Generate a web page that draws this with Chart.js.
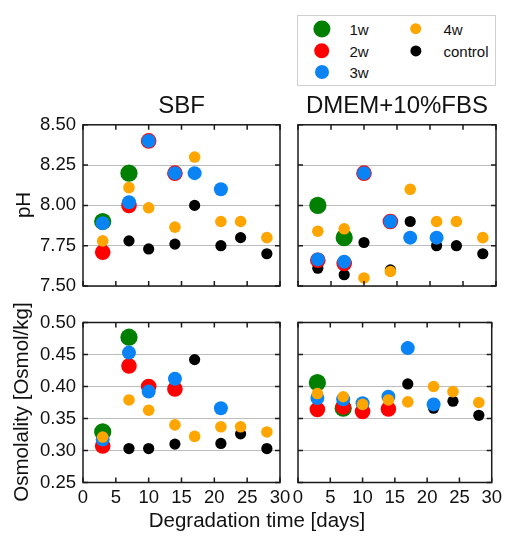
<!DOCTYPE html>
<html>
<head>
<meta charset="utf-8">
<script src="https://cdn.jsdelivr.net/npm/chart.js@4.4.1/dist/chart.umd.min.js"></script>
<style>
  html, body { margin: 0; padding: 0; background: #fff; }
  body { width: 506px; height: 536px; position: relative; overflow: hidden; font-family: "Liberation Sans", Arial, sans-serif; color: #111; }
  canvas { position: absolute; }
  .label { position: absolute; white-space: nowrap; line-height: 1; font-size: 20.5px; transform: translate(-50%, -50%); }
  .vlabel { transform: translate(-50%, -50%) rotate(-90deg); }
  #legend { position: absolute; left: 297px; top: 15px; width: 197px; height: 69px; border: 1px solid #cfcfcf; }
  #legend .dot { position: absolute; border-radius: 50%; transform: translate(-50%, -50%); }
  #legend .txt { position: absolute; font-size: 15px; line-height: 1; transform: translateY(-50%); }
</style>
</head>
<body>
<div id="legend"></div>
<canvas id="sbfPHCanvas" width="300" height="222" style="left:0;top:88px"></canvas>
<canvas id="dmemPHCanvas" width="226" height="222" style="left:280px;top:88px"></canvas>
<canvas id="sbfOsmCanvas" width="300" height="236" style="left:0;top:300px"></canvas>
<canvas id="dmemOsmCanvas" width="226" height="236" style="left:280px;top:300px"></canvas>
<div class="label vlabel" style="left:23px;top:205px">pH</div>
<div class="label vlabel" style="left:21px;top:402px">Osmolality [Osmol/kg]</div>
<div class="label" style="left:257px;top:520px">Degradation time [days]</div>
<script>
  const days = [3, 7, 10, 14, 17, 21, 24, 28];
  const seriesNames = ["1w", "2w", "3w", "4w", "control"];

  // rows follow seriesNames: 1w, 2w, 3w, 4w, control
  const sbfPH = [
    [7.90, 8.20, null, null, null, null, null, null],
    [7.71, 8.00, 8.40, 8.20, null, null, null, null],
    [7.89, 8.02, 8.40, 8.20, 8.20, 8.10, null, null],
    [7.78, 8.11, 7.985, 7.865, 8.30, 7.90, 7.90, 7.80],
    [null, 7.78, 7.73, 7.76, 8.00, 7.75, 7.80, 7.70],
  ];
  const dmemPH = [
    [8.00, 7.80, null, null, null, null, null, null],
    [7.66, 7.64, 8.20, 7.90, null, null, null, null],
    [7.665, 7.65, 8.20, 7.90, 7.80, 7.80, null, null],
    [7.84, 7.855, 7.55, 7.59, 8.10, 7.90, 7.90, 7.80],
    [7.61, 7.57, 7.77, 7.60, 7.90, 7.75, 7.75, 7.70],
  ];
  const sbfOsm = [
    [0.329, 0.477, null, null, null, null, null, null],
    [0.307, 0.432, 0.400, 0.396, null, null, null, null],
    [0.317, 0.453, 0.392, 0.412, null, 0.366, null, null],
    [0.321, 0.379, 0.363, 0.340, 0.322, 0.337, 0.337, 0.329],
    [null, 0.303, 0.303, 0.310, 0.442, 0.311, 0.326, 0.303],
  ];
  const dmemOsm = [
    [0.406, 0.366, null, null, null, null, null, null],
    [0.364, 0.368, 0.361, 0.365, null, null, null, null],
    [0.382, 0.380, 0.374, 0.384, 0.460, 0.372, null, null],
    [0.389, 0.384, 0.372, 0.379, 0.376, 0.400, 0.392, 0.375],
    [null, 0.365, null, null, 0.404, 0.366, 0.377, 0.355],
  ];

  const seriesColors = ["#007f00", "#ff0000", "#0a84f5", "#ffa500", "#000000"];
  const seriesRadii = [8.6, 7.8, 7.0, 5.8, 5.6];
  // control at the bottom, 4w on top
  const seriesOrder = [4, 3, 2, 1, 5];

  Chart.defaults.font.family = "'Liberation Sans', Arial, sans-serif";
  Chart.defaults.color = "#111";

  const framePlugin = {
    id: "frame",
    afterDatasetsDraw(chart) {
      const { ctx, chartArea: a, scales } = chart;
      ctx.save();
      ctx.strokeStyle = "#1a1a1a";
      ctx.lineWidth = 1.5;
      ctx.beginPath();
      scales.x.ticks.forEach((t) => {
        const px = scales.x.getPixelForValue(t.value);
        ctx.moveTo(px, a.top);
        ctx.lineTo(px, a.top + 5);
        ctx.moveTo(px, a.bottom);
        ctx.lineTo(px, a.bottom - 5);
      });
      scales.y.ticks.forEach((t) => {
        const py = scales.y.getPixelForValue(t.value);
        ctx.moveTo(a.left, py);
        ctx.lineTo(a.left + 5, py);
        ctx.moveTo(a.right, py);
        ctx.lineTo(a.right - 5, py);
      });
      ctx.stroke();
      ctx.strokeRect(a.left, a.top, a.right - a.left, a.bottom - a.top);
      ctx.restore();
    },
  };

  function buildPanel(canvasId, values, cfg) {
    const datasets = seriesNames.map((name, i) => ({
      label: name,
      data: days
        .map((d, k) => ({ x: d, y: values[i][k] }))
        .filter((p) => p.y !== null),
      backgroundColor: seriesColors[i],
      borderWidth: 0,
      pointRadius: seriesRadii[i],
      pointHoverRadius: seriesRadii[i],
      order: seriesOrder[i],
    }));

    new Chart(document.getElementById(canvasId), {
      type: "scatter",
      data: { datasets },
      options: {
        responsive: false,
        animation: false,
        events: [],
        layout: { padding: cfg.padding },
        plugins: {
          legend: { display: false },
          tooltip: { enabled: false },
          title: {
            display: !!cfg.title,
            text: cfg.title || "",
            fullSize: false,
            color: "#111",
            font: { size: 24, weight: "normal" },
            padding: { top: 4, bottom: 4 },
          },
        },
        scales: {
          x: {
            type: "linear",
            min: 0,
            max: 30,
            grid: { display: false, drawTicks: false },
            border: { display: false },
            ticks: {
              display: cfg.showX,
              stepSize: 5,
              autoSkip: false,
              maxRotation: 0,
              padding: 4,
              color: "#111",
              font: { size: 18.5 },
            },
            afterFit: (scale) => {
              scale.height = cfg.showX ? 30 : 0;
            },
          },
          y: {
            min: cfg.yMin,
            max: cfg.yMax,
            grid: { color: "#bdbdbd", lineWidth: 1, drawTicks: false },
            border: { display: false },
            ticks: {
              display: cfg.showY,
              stepSize: cfg.yStep,
              padding: 7,
              color: "#111",
              font: { size: 18.5 },
              callback: (v) => Number(v).toFixed(2),
            },
            afterFit: (scale) => {
              scale.width = cfg.showY ? 83 : 0;
            },
          },
        },
      },
      plugins: [framePlugin],
    });
  }

  buildPanel("sbfPHCanvas", sbfPH, {
    title: "SBF", showX: false, showY: true, yMin: 7.5, yMax: 8.5, yStep: 0.25,
    padding: { top: 0, left: 0, right: 20, bottom: 24 },
  });
  buildPanel("dmemPHCanvas", dmemPH, {
    title: "DMEM+10%FBS", showX: false, showY: false, yMin: 7.5, yMax: 8.5, yStep: 0.25,
    padding: { top: 0, left: 18, right: 10, bottom: 24 },
  });
  buildPanel("sbfOsmCanvas", sbfOsm, {
    title: null, showX: true, showY: true, yMin: 0.25, yMax: 0.5, yStep: 0.05,
    padding: { top: 22.5, left: 0, right: 20, bottom: 23.5 },
  });
  buildPanel("dmemOsmCanvas", dmemOsm, {
    title: null, showX: true, showY: false, yMin: 0.25, yMax: 0.5, yStep: 0.05,
    padding: { top: 22.5, left: 18, right: 10, bottom: 23.5 },
  });

  // legend: two columns, filled column by column (3 rows)
  const legend = document.getElementById("legend");
  seriesNames.forEach((name, i) => {
    const col = Math.floor(i / 3);
    const row = i % 3;
    const cx = col === 0 ? 23.5 : 117.5;
    const cy = [12.5, 34.5, 56][row];
    const dot = document.createElement("span");
    dot.className = "dot";
    dot.style.left = cx + "px";
    dot.style.top = cy + "px";
    dot.style.width = dot.style.height = seriesRadii[i] * 2 + "px";
    dot.style.background = seriesColors[i];
    legend.appendChild(dot);
    const txt = document.createElement("span");
    txt.className = "txt";
    txt.textContent = name;
    txt.style.left = cx + 28 + "px";
    txt.style.top = cy + "px";
    legend.appendChild(txt);
  });
</script>
</body>
</html>
